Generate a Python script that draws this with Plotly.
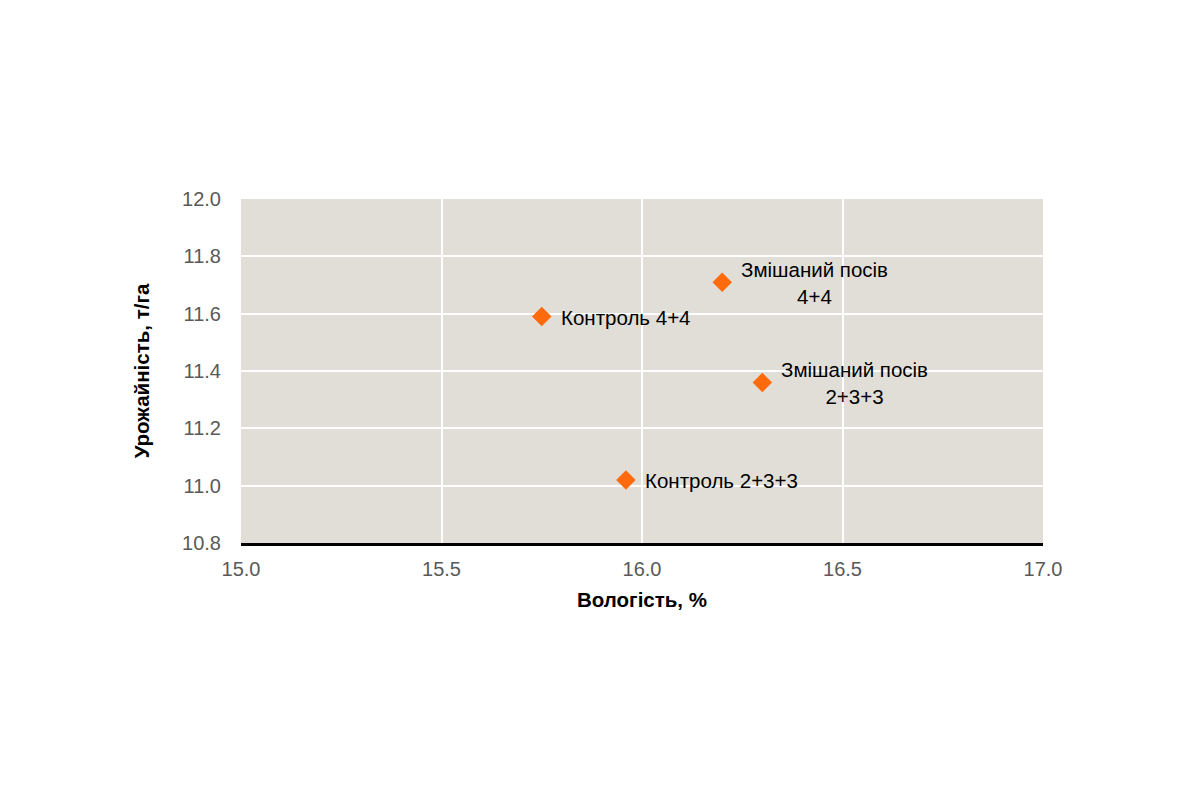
import plotly.graph_objects as go

labels = ["Контроль 4+4", "Змішаний посів<br>4+4", "Змішаний посів<br>2+3+3", "Контроль 2+3+3"]
moisture = [15.75, 16.20, 16.30, 15.96]
yield_t = [11.59, 11.71, 11.36, 11.02]

x_ticks = [15.0, 15.5, 16.0, 16.5, 17.0]
y_ticks = [10.8, 11.0, 11.2, 11.4, 11.6, 11.8, 12.0]

FONT = "Liberation Sans, Arial, sans-serif"

fig = go.Figure()
fig.add_trace(go.Scatter(
    x=moisture, y=yield_t, mode="markers",
    marker=dict(symbol="diamond", size=15, color="#FF6A0D", line=dict(width=0)),
    showlegend=False, hoverinfo="skip",
))

for lx, ly, lt in zip(moisture, yield_t, labels):
    fig.add_annotation(
        x=lx, y=ly, text=lt, showarrow=False,
        xanchor="left", yanchor="middle", align="center",
        xshift=17, yshift=-1,
        font=dict(family=FONT, size=20.5, color="#000000"),
    )

fig.update_layout(
    width=1200, height=800,
    margin=dict(l=241, r=157, t=199, b=257),
    paper_bgcolor="white", plot_bgcolor="#E1DED8",
    font=dict(family=FONT, size=18, color="#595959"),
    xaxis=dict(
        range=[15.0, 17.0], tickvals=x_ticks, ticktext=[f"{v:.1f}" for v in x_ticks],
        showgrid=True, gridcolor="white", gridwidth=2,
        showline=True, linecolor="black", linewidth=2.5,
        zeroline=False, ticks="outside", ticklen=6, tickcolor="rgba(0,0,0,0)",
        tickfont=dict(family=FONT, size=20, color="#595959"),
        title=dict(text="<b>Вологість, %</b>", font=dict(family=FONT, size=20.5, color="#000000"), standoff=14),
    ),
    yaxis=dict(
        range=[10.8, 12.0], tickvals=y_ticks, ticktext=[f"{v:.1f}" for v in y_ticks],
        showgrid=True, gridcolor="white", gridwidth=2,
        showline=False, zeroline=False,
        ticks="outside", ticklen=15, tickcolor="rgba(0,0,0,0)",
        tickfont=dict(family=FONT, size=20, color="#595959"),
        title=dict(text="<b>Урожайність, т/га</b>", font=dict(family=FONT, size=20.5, color="#000000"), standoff=26),
    ),
)

fig.write_html("out.html")
